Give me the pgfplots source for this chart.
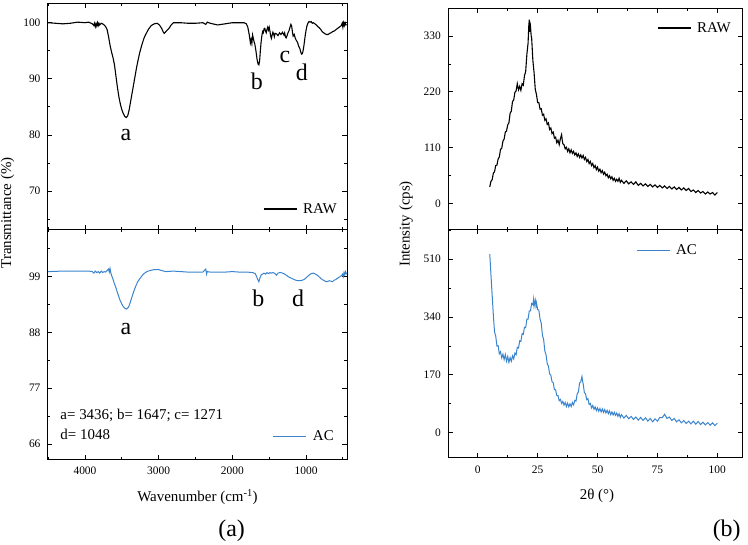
\documentclass[border=0pt]{standalone}
\usepackage{fontspec}
\setmainfont{Liberation Serif}
\usepackage{pgfplots}
\pgfplotsset{compat=1.18}
\definecolor{acblue}{RGB}{58,132,206}
\newcommand\tickfont{\fontsize{11.5}{13}\selectfont}
\newcommand\labfont{\fontsize{15}{17}\selectfont}
\newcommand\annfont{\fontsize{24}{26}\selectfont}
\newcommand\panfont{\fontsize{24}{26}\selectfont}
\pgfplotsset{
 base/.style={scale only axis, clip=false,
   axis line style={line width=1bp},
   tick style={line width=0.8bp, color=black},
   tick align=inside, major tick length=4.5bp, minor tick length=2.5bp,
   ticklabel style={font=\tickfont},
   /pgf/number format/assume math mode=true,
   /pgf/number format/1000 sep={},
   yticklabel style={xshift=-4bp},
   xticklabel style={yshift=-4.5bp},
   label style={font=\labfont},
   legend style={draw=none, fill=none, inner sep=0pt, outer sep=0pt, font=\labfont, anchor=west, nodes={inner sep=0pt}},
   legend image code/.code={\draw[#1] (0bp,0bp) -- (33bp,0bp); \path (39bp,0bp);},
 },
 ftir/.style={base, width=299bp, xmin=444, xmax=4502, x dir=reverse,
   xtick={1000,2000,3000,4000}, minor xtick={500,1500,2500,3500,4500}},
 xrd/.style={base, width=294.4bp, xmin=-12.3, xmax=110.6,
   xtick={0,25,50,75,100}, minor xtick={12.5,37.5,62.5,87.5}},
}
\begin{document}
\begin{tikzpicture}
\path[use as bounding box] (0bp,0bp) rectangle (748bp,-545bp);

% ---------- top left: FTIR RAW
\begin{axis}[ftir, at={(48bp,-3.3bp)}, anchor=north west, height=225.7bp,
  ymin=63.23, ymax=103.46, ytick={70,80,90,100}, minor ytick={65,75,85,95},
  xticklabels={},
  ylabel={Transmittance (\%)}, ylabel style={at={(axis description cs:-0.135,0.071)}, anchor=center},
  legend style={at={(0.719,0.0886)}}]
\addplot[black, line width=1.1bp] table {
4500 100.0
4400 99.9
4300 99.8
4200 99.9
4100 100.1
4000 100.0
3950 100.1
3900 99.8
3880 99.5
3870 99.9
3860 99.3
3850 99.8
3840 99.4
3830 100.0
3820 99.5
3810 99.9
3800 99.6
3780 99.9
3760 99.8
3740 99.6
3720 99.3
3700 98.8
3680 97.5
3660 96.0
3640 94.8
3620 93.8
3600 92.5
3580 90.5
3560 88.5
3540 86.8
3520 85.5
3500 84.5
3480 83.8
3460 83.3
3440 83.1
3420 83.4
3400 84.5
3380 86.0
3360 87.5
3340 89.0
3320 90.5
3300 92.0
3280 93.3
3260 94.5
3240 95.5
3220 96.4
3200 97.2
3180 97.8
3160 98.3
3140 98.8
3100 99.5
3060 99.8
3020 99.9
2990 99.6
2960 99.0
2940 98.4
2925 98.1
2910 98.3
2890 98.6
2860 99.0
2830 99.6
2800 100.0
2700 100.0
2600 99.9
2500 99.9
2400 100.0
2360 99.7
2340 100.1
2300 99.9
2200 99.6
2100 99.8
2000 100.0
1900 100.0
1840 100.0
1810 99.8
1790 99.2
1770 97.8
1755 96.4
1745 97.0
1735 96.3
1725 97.8
1715 97.2
1705 96.6
1695 96.2
1680 95.0
1665 93.5
1650 92.6
1640 92.5
1630 93.2
1620 95.0
1610 96.5
1600 97.6
1590 98.4
1580 98.2
1570 98.9
1560 99.0
1550 98.5
1540 98.2
1530 98.8
1520 99.2
1510 98.7
1500 99.2
1490 98.5
1480 97.6
1470 97.2
1460 97.8
1450 98.3
1440 98.0
1430 97.5
1420 98.1
1400 98.0
1380 97.7
1360 98.2
1340 97.9
1320 98.3
1300 97.8
1290 98.2
1280 97.5
1270 97.3
1260 97.6
1245 98.2
1230 98.6
1215 99.3
1205 99.7
1195 99.4
1185 98.4
1175 97.6
1160 97.9
1145 97.2
1130 96.8
1115 96.5
1100 95.8
1090 95.6
1080 95.2
1070 94.7
1060 94.4
1050 94.5
1040 95.0
1030 95.8
1020 96.8
1010 97.8
1000 98.6
990 99.3
975 99.9
960 100.2
945 100.1
930 100.2
915 99.9
900 100.0
880 99.8
860 99.6
840 99.3
820 99.1
800 98.8
780 98.4
760 98.2
740 98.0
720 97.9
700 97.9
680 98.1
660 98.2
640 98.4
620 98.5
600 98.7
580 98.9
560 99.1
540 99.3
520 99.5
510 99.9
500 99.2
490 100.0
480 99.5
470 100.0
460 99.6
450 99.7
};
\addlegendentry{RAW}
\node[font=\annfont] at (axis cs:3444,80.0) {a};
\node[font=\annfont] at (axis cs:1666,89.6) {b};
\node[font=\annfont] at (axis cs:1286,93.9) {c};
\node[font=\annfont] at (axis cs:1056,91.2) {d};
\end{axis}

% ---------- bottom left: FTIR AC
\begin{axis}[ftir, at={(48bp,-229bp)}, anchor=north west, height=230bp,
  ymin=63.04, ymax=108.4, ytick={66,77,88,99}, minor ytick={71.5,82.5,93.5,104.5},
  xlabel={Wavenumber (cm\textsuperscript{-1})},
  xlabel style={at={(axis description cs:0.5,-0.165)}, anchor=center},
  legend style={at={(0.7525,0.1)}}]
\addplot[acblue, line width=1bp] table {
4500 100.0
4300 100.1
4100 100.1
3950 100.1
3900 100.0
3880 99.7
3860 100.1
3840 99.8
3820 100.0
3800 99.7
3780 100.1
3760 99.8
3740 100.0
3720 99.9
3700 100.2
3680 100.5
3670 99.9
3660 100.6
3650 99.8
3640 99.3
3620 98.5
3600 97.6
3580 96.8
3560 95.9
3540 95.0
3520 94.2
3500 93.6
3480 93.1
3460 92.8
3440 92.6
3420 92.8
3400 93.3
3380 94.2
3360 95.1
3340 96.0
3320 96.8
3300 97.5
3280 98.1
3260 98.5
3240 98.9
3220 99.3
3200 99.6
3160 100.0
3120 100.2
3060 100.4
3000 100.4
2960 100.2
2900 100.0
2800 100.1
2700 100.0
2600 99.9
2500 99.9
2400 99.9
2360 100.5
2350 99.5
2340 100.0
2300 99.9
2200 99.9
2100 99.9
2000 100.0
1900 99.9
1800 99.9
1720 99.8
1690 99.6
1670 99.0
1660 98.6
1650 98.3
1640 98.0
1630 98.5
1620 99.0
1605 99.4
1590 99.5
1570 99.7
1550 99.5
1530 99.8
1510 99.6
1490 99.8
1470 99.7
1450 99.8
1430 99.7
1400 99.3
1380 99.7
1360 99.8
1340 99.8
1300 99.6
1260 99.2
1230 98.9
1200 98.7
1170 98.5
1140 98.3
1110 98.2
1080 98.2
1050 98.3
1020 98.5
990 98.9
960 99.3
930 99.6
900 99.7
870 99.5
840 99.2
810 98.8
780 98.4
760 98.3
740 98.1
720 98.0
700 98.1
680 98.2
660 98.1
640 98.0
620 98.3
600 98.4
580 98.6
560 98.8
540 99.0
520 99.2
505 99.5
495 99.0
485 99.8
475 99.4
465 100.0
455 99.6
450 99.8
};
\addlegendentry{AC}
\node[font=\annfont] at (axis cs:3444,88.74) {a};
\node[font=\annfont] at (axis cs:1648,94.74) {b};
\node[font=\annfont] at (axis cs:1106,94.74) {d};
\node[font=\labfont, anchor=west] at (axis description cs:0.030,0.188) {a= 3436; b= 1647; c= 1271};
\node[font=\labfont, anchor=west] at (axis description cs:0.030,0.107) {d= 1048};
\node[font=\panfont] at (axis description cs:0.614,-0.313) {(a)};
\end{axis}

% ---------- top right: XRD RAW
\begin{axis}[xrd, at={(448.3bp,-8.3bp)}, anchor=north west, height=221bp,
  ymin=-50.4, ymax=384.5, ytick={0,110,220,330}, minor ytick={55,165,275},
  xticklabels={},
  ylabel={Intensity (cps)}, ylabel style={at={(axis description cs:-0.1437,0.024)}, anchor=center},
  legend style={at={(0.709,0.911)}}]
\addplot[black, line width=1.1bp] table {
5.0 33
5.5 44
6.0 47
6.5 60
7.0 63
7.5 75
8.0 76
8.5 88
9.0 92
9.5 107
10.0 109
10.5 123
11.0 127
11.5 141
12.0 143
12.5 155
13.0 159
13.5 178
14.0 182
14.5 201
15.0 204
15.5 219
16.0 222
16.5 236
17.0 224
17.5 231
18.0 223
18.5 236
19.0 233
19.5 252
20.0 260
20.5 294
21.0 316
21.3 350
21.5 362
21.7 338
22.0 349
22.3 330
22.5 326
23.0 282
23.5 258
24.0 225
24.5 215
25.0 199
25.5 199
26.0 186
26.5 187
27.0 174
27.5 176
28.0 164
28.5 167
29.0 156
29.5 159
30.0 146
30.5 149
31.0 138
31.5 141
32.0 129
32.5 131
33.0 120
33.5 125
34.0 116
34.5 128
35.0 136
35.3 124
35.5 118
36.0 116
36.5 108
37.0 111
37.5 103
38.0 108
38.5 100
39.0 106
39.5 99
40.0 103
40.5 96
41.0 100
41.5 93
42.0 98
42.5 91
43.0 96
43.5 90
44.0 95
44.5 87
45.0 91
45.5 83
46.0 87
46.5 79
47.0 83
47.5 75
48.0 79
48.5 71
49.0 75
49.5 67
50.0 72
50.5 64
51.0 68
51.5 61
52.0 65
52.5 58
53.0 62
53.5 55
54.0 58
54.5 51
55.0 55
55.5 49
56.0 53
56.5 46
57.0 50
57.5 44
58.0 48
58.5 44
59.0 50
59.5 42
60.0 46
61.0 40
62.0 45
63.0 39
64.0 43
65.0 38
66.0 43
67.0 36
68.0 40
69.0 35
70.0 39
71.0 34
72.0 38
73.0 33
74.0 37
75.0 32
76.0 36
77.0 31
78.0 35
79.0 30
80.0 34
81.0 29
82.0 33
83.0 28
84.0 32
85.0 27
86.0 31
87.0 26
88.0 30
89.0 24
90.0 27
91.0 22
92.0 26
93.0 21
94.0 24
95.0 19
96.0 23
97.0 19
98.0 22
99.0 17
100.0 22
};
\addlegendentry{RAW}
\end{axis}

% ---------- bottom right: XRD AC
\begin{axis}[xrd, at={(448.3bp,-229.3bp)}, anchor=north west, height=228.4bp,
  ymin=-73.5, ymax=598, ytick={0,170,340,510}, minor ytick={85,255,425,595},
  xlabel={2θ (°)},
  xlabel style={at={(axis description cs:0.505,-0.1677)}, anchor=center},
  legend style={at={(0.6376,0.906)}}]
\addplot[acblue, line width=1bp] table {
5.0 525
5.3 490
5.5 465
6.0 405
6.5 346
7.0 296
7.5 284
8.0 255
8.5 256
9.0 232
9.5 238
10.0 220
10.5 231
11.0 215
11.5 230
12.0 210
12.5 224
13.0 207
13.5 221
14.0 210
14.5 226
15.0 217
15.5 234
16.0 229
16.5 251
17.0 249
17.5 270
18.0 268
18.5 291
19.0 289
19.5 310
20.0 309
20.5 334
21.0 334
21.5 358
22.0 358
22.5 380
23.0 376
23.3 392
23.5 372
24.0 390
24.3 372
24.5 382
25.0 362
25.5 360
26.0 334
26.5 322
27.0 286
27.5 274
28.0 240
28.5 229
29.0 203
29.5 196
30.0 173
30.5 169
31.0 150
31.5 147
32.0 127
32.5 126
33.0 109
33.5 109
34.0 94
34.5 98
35.0 86
35.5 92
36.0 81
36.5 89
37.0 77
37.5 87
38.0 76
38.5 85
39.0 77
39.5 89
40.0 82
40.5 95
41.0 93
41.5 114
42.0 120
42.5 146
43.0 150
43.5 165
43.8 150
44.0 144
44.5 118
45.0 114
45.5 97
46.0 100
46.5 83
47.0 86
47.5 73
48.0 80
48.5 69
49.0 76
49.5 65
50.0 73
50.5 63
51.0 71
51.5 61
52.0 70
52.5 60
53.0 68
53.5 58
54.0 66
54.5 56
55.0 64
55.5 53
56.0 61
56.5 52
57.0 60
57.5 51
58.0 58
58.5 48
59.0 56
59.5 45
60.0 53
61.0 43
62.0 51
63.0 41
64.0 48
65.0 39
66.0 46
67.0 37
68.0 45
69.0 36
70.0 44
71.0 34
72.0 42
73.0 32
74.0 41
75.0 34
76.0 45
77.0 44
78.0 54
79.0 42
80.0 46
81.0 36
82.0 42
83.0 32
84.0 38
85.0 29
86.0 36
87.0 27
88.0 34
89.0 26
90.0 34
91.0 25
92.0 33
93.0 24
94.0 31
95.0 23
96.0 30
97.0 22
98.0 29
99.0 21
100.0 28
};
\addlegendentry{AC}
\node[font=\panfont] at (axis description cs:0.9457,-0.321) {(b)};
\end{axis}
\end{tikzpicture}
\end{document}
